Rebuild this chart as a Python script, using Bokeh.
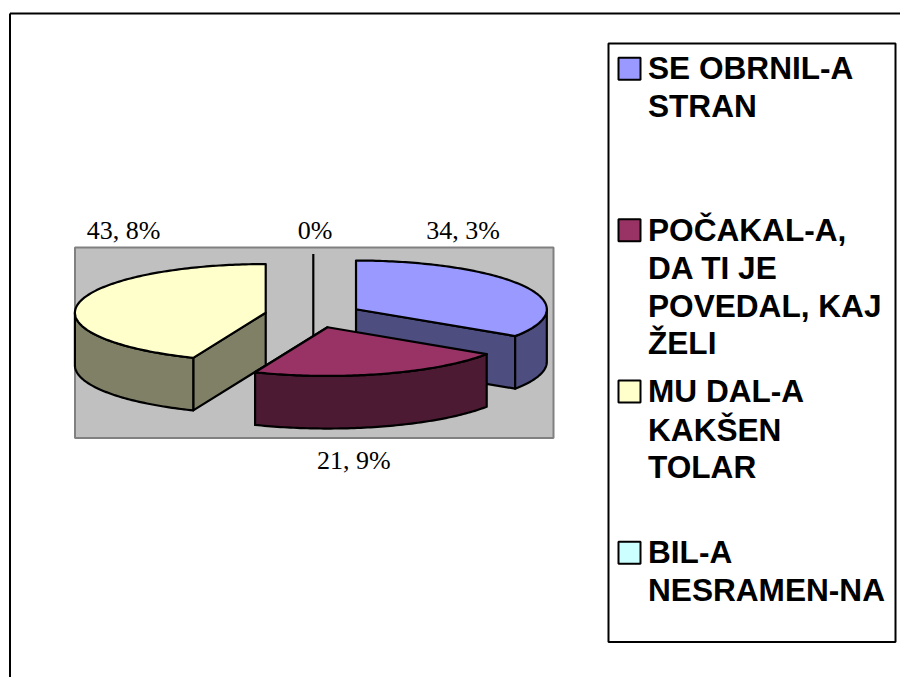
import math
from bokeh.embed import file_html
from bokeh.resources import INLINE
from bokeh.plotting import figure
from bokeh.models import Range1d
from bokeh.core.properties import value

# Data
categories = ["SE OBRNIL-A STRAN", "POČAKAL-A, DA TI JE POVEDAL, KAJ ŽELI", "MU DAL-A KAKŠEN TOLAR", "BIL-A NESRAMEN-NA"]
shares = [34.3, 21.9, 43.8, 0.0]
data_labels = ["34, 3%", "21, 9%", "43, 8%", "0%"]
top_colors = ["#9999FF", "#993366", "#FFFFCC", "#CCFFFF"]
side_colors = ["#4D4D80", "#4D1A33", "#808066", "#668080"]
legend_lines = [["SE OBRNIL-A", "STRAN"], ["POČAKAL-A,", "DA TI JE", "POVEDAL, KAJ", "ŽELI"],
                ["MU DAL-A", "KAKŠEN", "TOLAR"], ["BIL-A", "NESRAMEN-NA"]]

# Layout (page pixels)
W, H = 900, 677
CX, CY, RX, RY, DEPTH, EX, EY = 312.8, 314.7, 190.8, 48.7, 52.6, 48.5, 12.6
label_x = [462.6, 353.3, 123.0, 314.5]
label_y = [239.3, 469.3, 239.3, 239.3]
swatch_top = [57.3, 218.7, 380.0, 541.3]
legend_base = [[78.7, 116.7], [240.7, 278.7, 316.0, 353.3], [401.7, 440.0, 477.3], [562.7, 600.7]]

p = figure(width=W, height=H, output_backend="svg", toolbar_location=None,
           x_range=Range1d(0, W), y_range=Range1d(H, 0),
           x_axis_location=None, y_axis_location=None, min_border=0,
           outline_line_color=None, background_fill_color="white", border_fill_color="white")
p.grid.visible = False

# outer frame
p.line([9.5, 9.5], [H, 13], line_color="black", line_width=2)
p.line([9.5, W], [13, 13], line_color="black", line_width=2)

# plot area
p.quad(left=[74.5], right=[553], top=[247], bottom=[437.5], fill_color="#C0C0C0",
       line_color="#808080", line_width=2)


def pt(cx, cy, deg, dz=0.0):
    t = math.radians(deg)
    return cx + RX * math.sin(t), cy - RY * math.cos(t) + dz


def arc(cx, cy, a0, a1, dz=0.0):
    n = max(2, int(abs(a1 - a0)) + 1)
    return [pt(cx, cy, a0 + (a1 - a0) * i / (n - 1), dz) for i in range(n)]


def add(poly, fill):
    p.patch([q[0] for q in poly], [q[1] for q in poly], fill_color=fill,
            line_color="black", line_width=2.2, line_join="round")


# slice angles from the shares
total = sum(shares)
slices = []
start = 0.0
for s, tc, sc in zip(shares, top_colors, side_colors):
    end = start + 360.0 * s / total
    mid = math.radians((start + end) / 2)
    cx = CX + EX * math.sin(mid)
    cy = CY - EY * math.cos(mid)
    slices.append((start, end, cx, cy, tc, sc))
    start = end

# draw back to front: zero slice, first, third, second
for idx in [3, 0, 2, 1]:
    a0, a1, cx, cy, tc, sc = slices[idx]
    if a1 - a0 < 0.01:
        p.line([cx, cx], [cy - RY, cy + DEPTH], line_color="black", line_width=2.2)
        continue
    # cut faces
    if a0 < 180:
        e = pt(cx, cy, a1)
        add([(cx, cy), e, (e[0], e[1] + DEPTH), (cx, cy + DEPTH)], sc)
    else:
        e = pt(cx, cy, a0)
        add([(cx, cy), e, (e[0], e[1] + DEPTH), (cx, cy + DEPTH)], sc)
    # outer wall (front half of rim only)
    w0, w1 = max(a0, 90), min(a1, 270)
    if w1 > w0:
        add(arc(cx, cy, w0, w1) + arc(cx, cy, w1, w0, DEPTH), sc)
    # top face
    add([(cx, cy)] + arc(cx, cy, a0, a1), tc)

# data labels
p.text(label_x, label_y, text=data_labels, text_font=value("Liberation Serif"), text_font_size="26px",
       text_align="center", text_baseline="alphabetic", text_color="black", y_offset=-9)

# legend box
p.quad(left=[608], right=[895], top=[43], bottom=[641.5], fill_color="white", line_color="black", line_width=2)
for y0, c in zip(swatch_top, top_colors):
    p.quad(left=[618], right=[640], top=[y0], bottom=[y0 + 22], fill_color=c, line_color="black", line_width=2)
for lines, bases in zip(legend_lines, legend_base):
    p.text([647.5] * len(lines), bases, text=lines, text_font=value("Liberation Sans"), text_font_size="31.6px",
           text_font_style="bold", text_align="left", text_baseline="alphabetic", text_color="black", y_offset=-11)

open("out.html", "w").write(file_html(p, INLINE))
